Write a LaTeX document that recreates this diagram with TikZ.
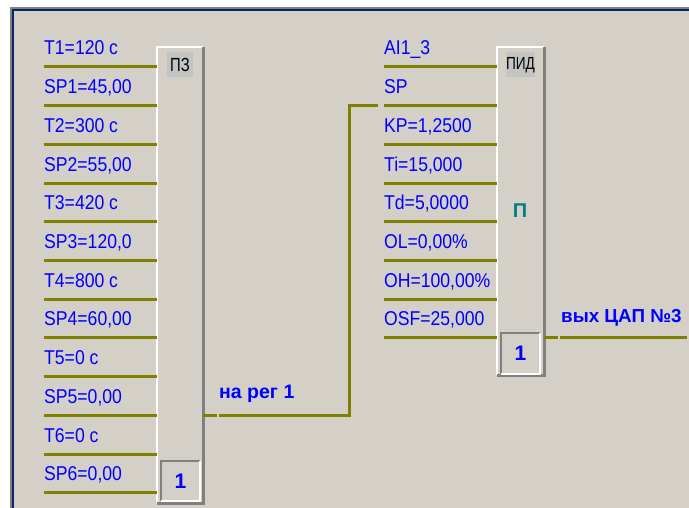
\documentclass[tikz,border=0pt]{standalone}
\usepackage{fontspec}
\setmainfont{Liberation Sans}
\newfontfamily\pinfont[FakeStretch=0.88]{Liberation Sans}
\newfontfamily\namefont[FakeStretch=0.78]{Liberation Sans}
\usepackage{tikz}
\usetikzlibrary{calc}
\definecolor{panel}{HTML}{D4D0C8}
\definecolor{pinblue}{HTML}{0000FF}
\definecolor{wire}{HTML}{808000}
\definecolor{edgegray}{HTML}{808080}
\definecolor{headgray}{HTML}{C4C4C4}
\definecolor{navy}{HTML}{0A246A}
\definecolor{pidteal}{HTML}{008080}
\tikzset{
  pinline/.style={wire,line width=3pt},
  pinlabel/.style={anchor=base west,inner sep=0pt,text=pinblue,font=\pinfont\fontsize{20}{20}\selectfont},
  wirelabel/.style={anchor=base west,inner sep=0pt,text=pinblue,font=\bfseries\fontsize{19.5}{19.5}\selectfont},
  blockbox/.style={fill=panel,inner sep=0pt},
  lightedge/.style={white,line width=2pt},
  darkedge/.style={edgegray,line width=3pt},
  header/.style={fill=headgray,inner sep=0pt,minimum width=26pt,minimum height=25pt,font=\namefont\fontsize{19}{19}\selectfont},
  countbox/.style={inner sep=0pt,minimum width=39pt,minimum height=40pt,text=pinblue,font=\bfseries\fontsize{21}{21}\selectfont}
}
\begin{document}
\begin{tikzpicture}[x=1pt,y=-1pt]
    \useasboundingbox (0,0) rectangle (689,508);
    % window frame
    \fill[white] (0,0) rectangle (689,508);
    \fill[panel] (10,7) rectangle (689,508);
    \fill[edgegray] (10,7) rectangle (689,9);
    \fill[navy] (11,9) rectangle (689,11);
    \fill[edgegray] (10,7) rectangle (11.5,508);
    \fill[navy] (11.5,9) rectangle (13.5,508);

    % blocks
    \node[blockbox,minimum width=46pt,minimum height=456pt] (pz) at (180,275) {};
    \node[blockbox,minimum width=47pt,minimum height=328pt] (pid) at (520.5,211) {};
    \draw[lightedge] (pz.south west) -- (pz.north west) -- (pz.north east);
    \draw[darkedge] (pz.north east) -- (pz.south east) -- (pz.south west);
    \draw[lightedge] (pid.south west) -- (pid.north west) -- (pid.north east);
    \draw[darkedge] (pid.north east) -- (pid.south east) -- (pid.south west);

    \node[header] (pzname) at ([yshift=-18pt]pz.north) {ПЗ};
    \node[header,font=\namefont\fontsize{17.5}{17.5}\selectfont] (pidname) at ([yshift=-18pt]pid.north) {ПИД};
    \node[text=pidteal,font=\bfseries\fontsize{20}{20}\selectfont] (pidmode) at (520,211) {П};

    \node[countbox] (pzcount) at (180.5,481) {1};
    \node[countbox] (pidcount) at (520.5,353.5) {1};
    \draw[darkedge,line width=2pt] (pzcount.south west) -- (pzcount.north west) -- (pzcount.north east);
    \draw[lightedge] (pzcount.north east) -- (pzcount.south east) -- (pzcount.south west);
    \draw[darkedge,line width=2pt] (pidcount.south west) -- (pidcount.north west) -- (pidcount.north east);
    \draw[lightedge] (pidcount.north east) -- (pidcount.south east) -- (pidcount.south west);

    % input pins
    \foreach \i in {1,...,12} {
        \coordinate (l\i) at (44,28.3+38.7*\i);
        \draw[pinline] (l\i) -- (l\i -| pz.west);
    }
    \foreach \i in {1,...,8} {
        \coordinate (r\i) at (384,28.3+38.7*\i);
        \draw[pinline] (r\i) -- (r\i -| pid.west);
    }

    \node[pinlabel] (t1) at ([yshift=12pt]l1) {T1=120 с};
    \node[pinlabel] (sp1) at ([yshift=12pt]l2) {SP1=45,00};
    \node[pinlabel] (t2) at ([yshift=12pt]l3) {T2=300 с};
    \node[pinlabel] (sp2) at ([yshift=12pt]l4) {SP2=55,00};
    \node[pinlabel] (t3) at ([yshift=12pt]l5) {T3=420 с};
    \node[pinlabel] (sp3) at ([yshift=12pt]l6) {SP3=120,0};
    \node[pinlabel] (t4) at ([yshift=12pt]l7) {T4=800 с};
    \node[pinlabel] (sp4) at ([yshift=12pt]l8) {SP4=60,00};
    \node[pinlabel] (t5) at ([yshift=12pt]l9) {T5=0 с};
    \node[pinlabel] (sp5) at ([yshift=12pt]l10) {SP5=0,00};
    \node[pinlabel] (t6) at ([yshift=12pt]l11) {T6=0 с};
    \node[pinlabel] (sp6) at ([yshift=12pt]l12) {SP6=0,00};

    \node[pinlabel] (ai) at ([yshift=12pt]r1) {AI1\_3};
    \node[pinlabel] (sp) at ([yshift=12pt]r2) {SP};
    \node[pinlabel] (kp) at ([yshift=12pt]r3) {KP=1,2500};
    \node[pinlabel] (ti) at ([yshift=12pt]r4) {Ti=15,000};
    \node[pinlabel] (td) at ([yshift=12pt]r5) {Td=5,0000};
    \node[pinlabel] (ol) at ([yshift=12pt]r6) {OL=0,00\%};
    \node[pinlabel] (oh) at ([yshift=12pt]r7) {OH=100,00\%};
    \node[pinlabel] (osf) at ([yshift=12pt]r8) {OSF=25,000};

    % outputs
    \draw[pinline] (pz.east |- l10) -- ++(14,0) coordinate (pzstub);
    \draw[pinline] ([xshift=2pt]pzstub) -| ([xshift=-35pt]r2) -- ([xshift=-6pt]r2);
    \node[wirelabel] (pzout) at (219,398) {на рег 1};

    \draw[pinline] (pid.east |- r8) -- ++(14,0) coordinate (pidstub);
    \draw[pinline] ([xshift=2pt]pidstub) -- (687,0 |- r8);
    \node[wirelabel,font=\bfseries\fontsize{18.8}{18.8}\selectfont] (pidout) at (561,322) {вых ЦАП №3};
\end{tikzpicture}
\end{document}
